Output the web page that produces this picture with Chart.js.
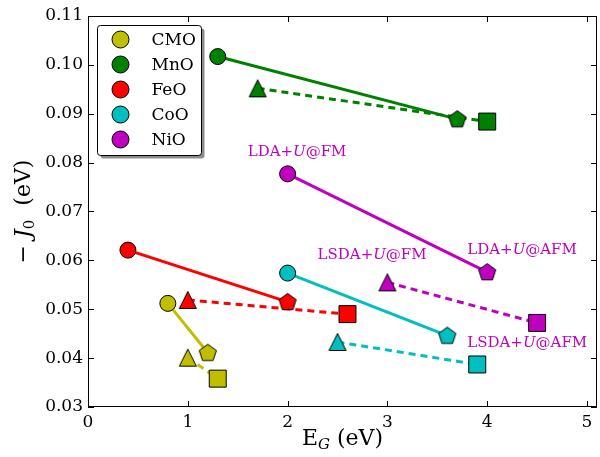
<!DOCTYPE html>
<html>
<head>
<meta charset="utf-8">
<script src="https://cdn.jsdelivr.net/npm/chart.js@4.4.0/dist/chart.umd.min.js"></script>
<style>
  html, body { margin: 0; padding: 0; background: #fff; }
  canvas { display: block; }
</style>
</head>
<body>
<canvas id="exchangeChart" width="600" height="457"></canvas>
<script>
// materials and their colours (matplotlib classic y, g, r, c, m)
let materials = ['CMO', 'MnO', 'FeO', 'CoO', 'NiO'];
let materialColors = ['#bfbf00', '#008000', '#ff0000', '#00bfbf', '#bf00bf'];

// band gap E_G (eV) and -J0 (eV) for each method
let ldaFmGap   = [0.8, 1.3, 0.4, 2.0, 2.0];
let ldaFmJ     = [0.0512, 0.1017, 0.0621, 0.0574, 0.0777];
let ldaAfmGap  = [1.2, 3.7, 2.0, 3.6, 4.0];
let ldaAfmJ    = [0.0411, 0.0889, 0.0515, 0.0446, 0.0576];
let lsdaFmGap  = [1.0, 1.7, 1.0, 2.5, 3.0];
let lsdaFmJ    = [0.0401, 0.0952, 0.0519, 0.0433, 0.0555];
let lsdaAfmGap = [1.3, 4.0, 2.6, 3.9, 4.5];
let lsdaAfmJ   = [0.0358, 0.0884, 0.0490, 0.0387, 0.0472];

// axis ticks
let xTicks = [0, 1, 2, 3, 4, 5];
let yTicks = [0.03, 0.04, 0.05, 0.06, 0.07, 0.08, 0.09, 0.10, 0.11];

// method labels written next to the NiO points
let methodLabels = ['LDA+U@FM', 'LSDA+U@FM', 'LDA+U@AFM', 'LSDA+U@AFM'];

const SERIF = '"DejaVu Serif", "Liberation Serif", serif';

// small canvases used as point styles for the shapes Chart.js lacks
function makeMarker(kind, fill) {
  let c = document.createElement('canvas');
  c.width = 20;
  c.height = 20;
  let g = c.getContext('2d');
  g.beginPath();
  if (kind === 'pentagon') {
    let r = 9;
    for (let i = 0; i < 5; i++) {
      let a = -Math.PI / 2 + i * 2 * Math.PI / 5;
      let px = 10 + r * Math.cos(a);
      let py = 10.5 + r * Math.sin(a);
      if (i === 0) g.moveTo(px, py); else g.lineTo(px, py);
    }
  } else {
    // triangle, centred on its bounding box like matplotlib's '^'
    g.moveTo(10, 1.5);
    g.lineTo(1.5, 18.5);
    g.lineTo(18.5, 18.5);
  }
  g.closePath();
  g.fillStyle = fill;
  g.fill();
  g.lineWidth = 1;
  g.strokeStyle = '#000';
  g.stroke();
  return c;
}

let datasets = [];
materials.forEach(function (name, i) {
  let col = materialColors[i];
  // LDA+U: circle -> pentagon, solid line
  datasets.push({
    label: name,
    data: [{x: ldaFmGap[i], y: ldaFmJ[i]}, {x: ldaAfmGap[i], y: ldaAfmJ[i]}],
    showLine: true,
    borderColor: col,
    borderWidth: 3,
    pointStyle: ['circle', makeMarker('pentagon', col)],
    pointRadius: 8,
    pointBackgroundColor: col,
    pointBorderColor: '#000',
    pointBorderWidth: 1,
    order: 1
  });
  // LSDA+U: triangle -> square, dashed line
  datasets.push({
    label: name + ' LSDA',
    data: [{x: lsdaFmGap[i], y: lsdaFmJ[i]}, {x: lsdaAfmGap[i], y: lsdaAfmJ[i]}],
    showLine: true,
    borderColor: col,
    borderWidth: 3,
    borderDash: [7, 5],
    pointStyle: [makeMarker('triangle', col), 'rect'],
    pointRadius: [8, 12],
    pointBackgroundColor: col,
    pointBorderColor: '#000',
    pointBorderWidth: 1,
    order: 2
  });
});

// draw text made of several runs (for subscripts / italics)
function drawRuns(ctx, runs, x, y, align) {
  let total = 0;
  runs.forEach(function (r) { ctx.font = r.font; total += ctx.measureText(r.text).width; });
  let cx = align === 'center' ? x - total / 2 : x;
  runs.forEach(function (r) {
    ctx.font = r.font;
    ctx.fillText(r.text, cx, y + (r.dy || 0));
    cx += ctx.measureText(r.text).width;
  });
}

// frame, inward ticks, axis titles, legend and labels
let decorPlugin = {
  id: 'decor',
  afterDatasetsDraw: function (chart) {
    let ctx = chart.ctx;
    let a = chart.chartArea;
    let xs = chart.scales.x;
    let ys = chart.scales.y;
    ctx.save();

    // frame
    ctx.strokeStyle = '#000';
    ctx.lineWidth = 1;
    ctx.strokeRect(a.left + 0.5, a.top + 0.5, a.right - a.left - 1, a.bottom - a.top - 1);

    // inward ticks on all four sides
    ctx.beginPath();
    xTicks.forEach(function (v) {
      let px = Math.round(xs.getPixelForValue(v)) + 0.5;
      ctx.moveTo(px, a.bottom); ctx.lineTo(px, a.bottom - 6);
      ctx.moveTo(px, a.top); ctx.lineTo(px, a.top + 6);
    });
    yTicks.forEach(function (v) {
      let py = Math.round(ys.getPixelForValue(v)) + 0.5;
      ctx.moveTo(a.left, py); ctx.lineTo(a.left + 6, py);
      ctx.moveTo(a.right, py); ctx.lineTo(a.right - 6, py);
    });
    ctx.stroke();

    // axis titles
    ctx.fillStyle = '#000';
    ctx.textBaseline = 'alphabetic';
    ctx.textAlign = 'left';
    drawRuns(ctx, [
      {text: 'E', font: '22px ' + SERIF},
      {text: 'G', font: 'italic 15px ' + SERIF, dy: 4},
      {text: ' (eV)', font: '22px ' + SERIF}
    ], (a.left + a.right) / 2, 445, 'center');

    ctx.save();
    ctx.translate(30, (a.top + a.bottom) / 2);
    ctx.rotate(-Math.PI / 2);
    drawRuns(ctx, [
      {text: '\u2212 ', font: '22px ' + SERIF},
      {text: 'J', font: 'italic 22px ' + SERIF},
      {text: '0', font: '15px ' + SERIF, dy: 4},
      {text: '  (eV)', font: '22px ' + SERIF}
    ], 0, 0, 'center');
    ctx.restore();

    // method labels, anchored at data coordinates (left x, middle y)
    let labelSpots = [[1.60, 0.0821], [2.30, 0.0610], [3.80, 0.0620], [3.80, 0.0430]];
    ctx.fillStyle = materialColors[4];
    ctx.textBaseline = 'middle';
    methodLabels.forEach(function (txt, k) {
      let parts = txt.split('U');
      drawRuns(ctx, [
        {text: parts[0], font: '15px ' + SERIF},
        {text: 'U', font: 'italic 15px ' + SERIF},
        {text: parts[1], font: '15px ' + SERIF}
      ], xs.getPixelForValue(labelSpots[k][0]), ys.getPixelForValue(labelSpots[k][1]), 'left');
    });

    // legend box with shadow
    let lx = a.left + 9.5, ly = a.top + 9.5, lw = 104, lh = 130;
    ctx.fillStyle = 'rgba(0,0,0,0.45)';
    ctx.beginPath();
    ctx.roundRect(lx + 3, ly + 3, lw, lh, 3);
    ctx.fill();
    ctx.fillStyle = '#fff';
    ctx.strokeStyle = '#000';
    ctx.beginPath();
    ctx.roundRect(lx, ly, lw, lh, 3);
    ctx.fill();
    ctx.stroke();

    ctx.textBaseline = 'middle';
    materials.forEach(function (name, i) {
      let ey = ly + 14 + i * 25;
      ctx.beginPath();
      ctx.arc(lx + 23, ey, 8.5, 0, 2 * Math.PI);
      ctx.fillStyle = materialColors[i];
      ctx.fill();
      ctx.lineWidth = 1;
      ctx.strokeStyle = '#000';
      ctx.stroke();
      ctx.fillStyle = '#000';
      ctx.font = '17px ' + SERIF;
      ctx.fillText(name, lx + 54, ey + 1);
    });

    ctx.restore();
  }
};

let ctx = document.getElementById('exchangeChart').getContext('2d');

let exchangeChart = new Chart(ctx, {
  type: 'scatter',
  data: { datasets: datasets },
  options: {
    responsive: false,
    maintainAspectRatio: false,
    animation: false,
    events: [],
    // no automatic padding for the big markers, the frame is placed by hand
    layout: { autoPadding: false, padding: { top: 16, right: 3, left: 0, bottom: 0 } },
    plugins: {
      legend: { display: false },
      tooltip: { enabled: false }
    },
    scales: {
      x: {
        type: 'linear',
        min: 0,
        max: 5.1,
        afterBuildTicks: function (scale) { scale.ticks = xTicks.map(function (v) { return {value: v}; }); },
        afterFit: function (scale) {
          scale.height = 50;
          scale.paddingLeft = 0;
          scale.paddingRight = 0;
        },
        grid: { display: false, drawTicks: false },
        border: { display: false },
        ticks: {
          padding: 5,
          color: '#000',
          font: { family: SERIF, size: 17 },
          callback: function (v) { return String(v); }
        }
      },
      y: {
        type: 'linear',
        min: 0.03,
        max: 0.11,
        afterBuildTicks: function (scale) { scale.ticks = yTicks.map(function (v) { return {value: v}; }); },
        afterFit: function (scale) { scale.width = 88; },
        grid: { display: false, drawTicks: false },
        border: { display: false },
        ticks: {
          padding: 5,
          color: '#000',
          font: { family: SERIF, size: 17 },
          callback: function (v) { return v.toFixed(2); }
        }
      }
    }
  },
  plugins: [decorPlugin]
});
</script>
</body>
</html>
